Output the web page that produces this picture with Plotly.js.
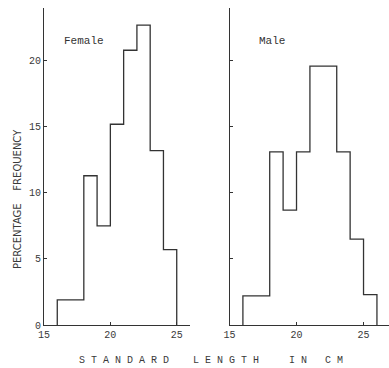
<!DOCTYPE html>
<html><head><meta charset="utf-8">
<script src="https://cdn.plot.ly/plotly-3.0.1.min.js"></script>
<style>html,body{margin:0;padding:0;background:#fff}#c{width:389px;height:368px}</style>
</head><body><div id="c"></div>
<script>
// Bin edges (cm) and percentage frequencies
const femaleEdges = [16, 18, 19, 20, 21, 22, 23, 24, 25];
const femaleValues = [1.9, 11.3, 7.5, 15.2, 20.8, 22.7, 13.2, 5.7];
const maleEdges = [16, 18, 19, 20, 21, 22, 23, 24, 25, 26];
const maleValues = [2.2, 13.1, 8.7, 13.1, 19.6, 19.6, 13.1, 6.5, 2.3];
const yTicks = [0, 5, 10, 15, 20];
const xTicks = [15, 20, 25];

function stepTrace(edges, vals, xa, ya) {
  const x = [edges[0]], y = [0];
  for (let i = 0; i < vals.length; i++) { x.push(edges[i]); y.push(vals[i]); }
  x.push(edges[edges.length - 1]); y.push(0);
  return {x, y, xaxis: xa, yaxis: ya, type: 'scatter', mode: 'lines',
    line: {shape: 'hv', color: '#333', width: 1.3}, hoverinfo: 'skip', showlegend: false};
}

const mono = {family: 'Liberation Mono, Courier New, monospace', size: 10, color: '#3a3a3a'};
const W = 389, H = 368, ml = 44, mr = 0, mt = 8, mb = 43;
const pw = W - ml - mr;

const axBase = {showgrid: false, zeroline: false, showline: true, linecolor: '#333', linewidth: 1,
  ticks: 'inside', ticklen: 3, tickcolor: '#333', tickfont: mono, fixedrange: true};

const layout = {
  width: W, height: H, margin: {l: ml, r: mr, t: mt, b: mb},
  paper_bgcolor: '#fff', plot_bgcolor: '#fff', showlegend: false,
  xaxis: Object.assign({}, axBase, {domain: [0, (190 - ml) / pw], range: [15, 26], tickvals: xTicks, anchor: 'y'}),
  yaxis: Object.assign({}, axBase, {domain: [0, 1], range: [0, 24], tickvals: yTicks, anchor: 'x'}),
  xaxis2: Object.assign({}, axBase, {domain: [(229.5 - ml) / pw, 1], range: [15, 26.9], tickvals: xTicks, anchor: 'y2'}),
  yaxis2: Object.assign({}, axBase, {domain: [0, 1], range: [0, 24], tickvals: yTicks, showticklabels: false, anchor: 'x2'}),
  annotations: [
    {text: 'Female', xref: 'x', yref: 'y', x: 18.0, y: 21.5, showarrow: false,
     font: {family: 'Liberation Mono, monospace', size: 11, color: '#333'}},
    {text: 'Male', xref: 'x2', yref: 'y2', x: 18.2, y: 21.5, showarrow: false,
     font: {family: 'Liberation Mono, monospace', size: 11, color: '#333'}},
    {text: 'S T A N D A R D    L E N G T H     I N   C M', xref: 'paper', yref: 'paper',
     x: (77 - ml) / pw, xanchor: 'left', y: -(360 - (H - mb)) / (H - mt - mb), yanchor: 'middle',
     showarrow: false, font: mono},
    {text: 'PERCENTAGE    FREQUENCY', xref: 'paper', yref: 'paper', textangle: -90,
     x: (17 - ml) / pw, xanchor: 'center', y: (H - mb - 199) / (H - mt - mb), yanchor: 'middle',
     showarrow: false, font: {family: 'DejaVu Sans, sans-serif', size: 10, color: '#3a3a3a'}}
  ]
};

Plotly.newPlot('c', [
  stepTrace(femaleEdges, femaleValues, 'x', 'y'),
  stepTrace(maleEdges, maleValues, 'x2', 'y2')
], layout, {staticPlot: true, displayModeBar: false});
</script></body></html>
